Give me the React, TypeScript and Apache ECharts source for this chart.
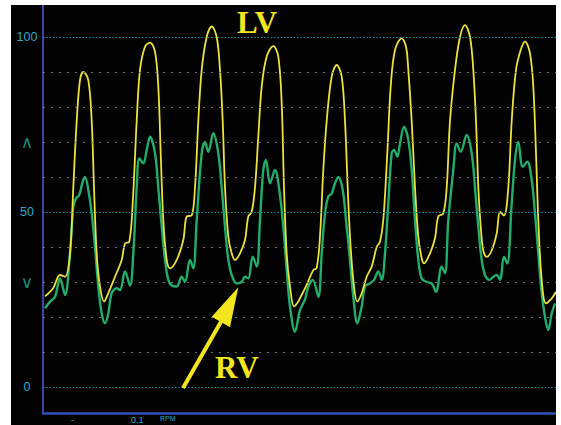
import React, { useEffect, useRef } from "react";
import * as echarts from "echarts";

// time axis (arbitrary units from the left axis) and pressures (mmHg)
const lvTime = [2, 10.3, 17, 22, 27, 30.3, 33.7, 37, 40.3, 45.3, 48.7, 51, 53.7, 57, 61, 65.3, 72, 78.7, 82, 86.3, 89.7, 93.7, 97, 102, 107, 112, 115.3, 117.7, 120.3, 123.7, 127, 133.7, 140.3, 143.7, 148.7, 152, 155.3, 158.7, 163.7, 168.7, 173.7, 177, 179.7, 182, 185.3, 188.7, 192, 197, 202, 205.3, 208.7, 212, 215.3, 218.7, 223.7, 230.3, 235.3, 238.7, 241, 243.7, 247, 251, 255.3, 259, 263.7, 270.3, 273.7, 277, 280.3, 283.7, 288.7, 293.7, 298.7, 302, 304.7, 307, 310.3, 314.3, 318.7, 323.7, 328.7, 333.7, 337, 340.3, 344.3, 347.7, 352, 358.7, 363, 365.3, 368.7, 372, 375.3, 378.7, 381, 387, 392, 395.3, 400.3, 403.7, 407, 412, 417, 422, 427, 430.3, 433, 435.3, 437.7, 440.3, 443.7, 448.7, 453.7, 457, 461, 465.3, 468.7, 473, 477.7, 482, 487, 490.3, 493, 495.3, 498.7, 503, 508.7, 513];
const lvValues = [25.9, 28.3, 32, 31.5, 38, 57, 76, 87.7, 90, 87.7, 76, 57, 38, 28.7, 24.4, 26.8, 31.5, 36.3, 41, 41.5, 52.5, 76, 90.6, 97.2, 98.4, 95.8, 85.8, 66.8, 47.7, 36.3, 33.9, 36.3, 42, 48.7, 49, 57, 76, 90.6, 100, 103, 100, 90.6, 76, 57, 43, 38.2, 36.3, 38.2, 42, 48.7, 50, 57, 71.5, 85.8, 94.4, 97.4, 94.4, 81, 57, 38, 28.7, 23, 24.4, 26.5, 29.2, 33.4, 34, 43, 62, 76, 88.7, 92, 88.7, 76, 57, 43, 30.6, 24.4, 26.8, 31.5, 34.4, 40, 41.5, 47.7, 66.8, 85.8, 96.3, 99.6, 97.2, 90.6, 76, 57, 43, 36.8, 35.3, 38.2, 42.5, 48.7, 49.6, 57, 76, 90.6, 100, 103.4, 100, 90.6, 76, 57, 45.8, 39, 37.2, 39, 43.9, 50, 49, 57, 76, 90.6, 96.3, 98.7, 95.3, 85.8, 66.8, 47.7, 30.6, 23.9, 25.3, 27.2];

const rvTime = [2, 7, 12, 17, 22, 27, 30.3, 33, 36.3, 39.7, 42, 45.3, 48.7, 52, 55.3, 58.7, 62, 65.3, 68.7, 73.7, 77, 82, 87, 90.3, 93.7, 96.3, 100.3, 103.7, 107, 112, 115.3, 118.7, 122, 125.3, 128.7, 133.7, 138.7, 142, 147, 150.3, 153.7, 158.7, 162, 165.3, 170.3, 175.3, 178.7, 182, 185.3, 188.7, 193.7, 198.7, 202, 205.3, 209.7, 213.7, 217, 220.3, 223, 227, 232, 236.3, 240.3, 243.7, 247, 252, 257, 262, 265.3, 269.7, 275.3, 278.7, 282, 285.3, 288.7, 292, 295.3, 299.7, 303, 307, 310.3, 314.3, 318.7, 322, 327, 331, 335.3, 338.7, 342, 345.3, 348.7, 351, 354.3, 357, 361, 365.3, 368.7, 372, 375.3, 378.7, 383.7, 388.7, 393, 398.7, 402, 405.3, 410.3, 413.7, 417.7, 423.7, 428.7, 432, 435.3, 438.7, 442, 446.3, 450.3, 453.7, 457, 461, 464.3, 468.7, 472, 475.3, 479.7, 484.3, 488.7, 492, 495.3, 498.7, 502, 505.3, 508.7, 512];
const rvValues = [22.5, 24.4, 25.8, 31, 26.3, 38.2, 51.5, 53.9, 54.9, 58.7, 60, 56.3, 49.6, 40, 28.7, 21, 18.2, 21, 26.8, 28.2, 27.7, 33, 29, 38.2, 57, 65.3, 63.9, 67.7, 71.5, 66.8, 57, 45.8, 36.3, 30.6, 29, 28.7, 31.5, 30, 36.3, 33.9, 47.7, 66.8, 70, 67.2, 72.5, 66.8, 57, 45.8, 36.3, 32, 29.6, 30, 31.5, 31, 37.2, 34.4, 47.7, 62, 64.9, 58.2, 62, 56.3, 45.8, 33.4, 23, 15.8, 22, 25, 28.7, 30.6, 25.8, 38.2, 49.6, 54.4, 55.3, 58.2, 60, 56.3, 47.7, 36.3, 25.8, 18.2, 23, 28.7, 29.6, 30.6, 33, 30.6, 38.2, 52.5, 66.8, 67.7, 65.8, 69.6, 74.4, 70.6, 62, 47.7, 36.3, 31, 30, 29.6, 27.2, 34.4, 32.5, 47.7, 62, 69.6, 67.2, 72, 66.8, 57, 45.8, 36.3, 32, 30.6, 31.5, 32, 30.6, 37.2, 35.3, 52.5, 64.9, 70, 62.9, 64.4, 59.1, 49.6, 38.2, 26.8, 20, 16.3, 21, 23.9];

const gridValues = [0, 10, 20, 30, 40, 50, 60, 70, 80, 90, 100];
const majorGrid = [0, 50, 100];
const tickLabels: Record<number, string> = { 100: "100", 70: "∧", 50: "50", 30: "∨", 0: "0" };

const YELLOW = "#ece23a";
const GREEN = "#1fae6c";

export default function App() {
  const ref = useRef<HTMLDivElement>(null);
  useEffect(() => {
    if (!ref.current) return;
    const chart = echarts.init(ref.current, null, { renderer: "svg" });
    const lv = lvTime.map((t, i) => [t, lvValues[i]]);
    const rv = rvTime.map((t, i) => [t, rvValues[i]]);
    chart.setOption({
      animation: false,
      backgroundColor: "#020202",
      grid: { left: 32, right: 0, top: 0, bottom: 12 },
      xAxis: {
        type: "value",
        min: 0,
        max: 513,
        axisLine: { show: true, onZero: false, lineStyle: { color: "#3150b8", width: 2.5 } },
        axisTick: { show: false },
        axisLabel: { show: false },
        splitLine: { show: false },
      },
      yAxis: {
        type: "value",
        min: -7.43,
        max: 109.14,
        splitNumber: 12,
        minInterval: 10,
        maxInterval: 10,
        axisLine: { show: true, lineStyle: { color: "#3a46a6", width: 2 } },
        axisTick: { show: false },
        splitLine: { show: false },
        axisLabel: {
          showMinLabel: false,
          showMaxLabel: false,
          align: "center",
          margin: 16,
          fontFamily: "Liberation Sans, Arial, sans-serif",
          fontSize: 12.5,
          color: "#2aa8c8",
          formatter: (v: number) => {
            const s = tickLabels[Math.round(v)];
            if (s === undefined || Math.abs(v - Math.round(v)) > 0.01) return "";
            if (s === "∧" || s === "∨") return "{c|" + s + "}";
            return s;
          },
          rich: { c: { color: "#1a8a78", fontSize: 17, fontFamily: "DejaVu Sans, sans-serif" } },
        },
      },
      series: [
        {
          type: "line",
          data: [],
          z: 1,
          silent: true,
          markLine: {
            silent: true,
            symbol: "none",
            label: { show: false },
            data: gridValues.map((v) => ({
              yAxis: v,
              lineStyle: majorGrid.includes(v)
                ? { color: "#1d8fa0", width: 1.2, type: [1.5, 1.8] }
                : { color: "#6a6a6a", width: 1, type: [2, 6] },
            })),
          },
        },
        {
          name: "RV",
          type: "line",
          data: rv,
          smooth: 0.35,
          showSymbol: false,
          z: 3,
          lineStyle: { color: GREEN, width: 2.4 },
        },
        {
          name: "LV",
          type: "line",
          data: lv,
          smooth: 0.35,
          showSymbol: false,
          z: 4,
          lineStyle: { color: YELLOW, width: 1.8 },
        },
      ],
      graphic: [
        {
          type: "text",
          left: 226,
          top: 2,
          z: 10,
          style: { text: "LV", fill: "#f3e51e", font: "bold 31px 'Liberation Serif', 'Times New Roman', serif" },
        },
        {
          type: "text",
          left: 204,
          top: 347,
          z: 10,
          style: { text: "RV", fill: "#f3e51e", font: "bold 31px 'Liberation Serif', 'Times New Roman', serif" },
        },
        {
          type: "line",
          z: 10,
          shape: { x1: 172, y1: 383, x2: 211, y2: 315 },
          style: { stroke: "#f3e51e", lineWidth: 4 },
        },
        {
          type: "polygon",
          z: 10,
          shape: { points: [[227.3, 282.3], [200.7, 311.7], [219, 322.3]] },
          style: { fill: "#f3e51e" },
        },
        {
          type: "text",
          left: 120,
          top: 410,
          z: 10,
          style: { text: "0.1", fill: "#2aa8c8", font: "9px 'Liberation Sans', sans-serif" },
        },
        {
          type: "text",
          left: 149,
          top: 410,
          z: 10,
          style: { text: "RPM", fill: "#2aa8c8", font: "7px 'Liberation Sans', sans-serif" },
        },
        {
          type: "text",
          left: 60,
          top: 410,
          z: 10,
          style: { text: "-", fill: "#2aa8c8", font: "9px 'Liberation Sans', sans-serif" },
        },
      ],
    });
    return () => chart.dispose();
  }, []);
  return (
    <div style={{ position: "fixed", left: 0, top: 0, width: 561, height: 425, background: "#fff", overflow: "hidden" }}>
      <div ref={ref} style={{ position: "absolute", left: 11, top: 5, width: 545, height: 420 }} />
    </div>
  );
}
